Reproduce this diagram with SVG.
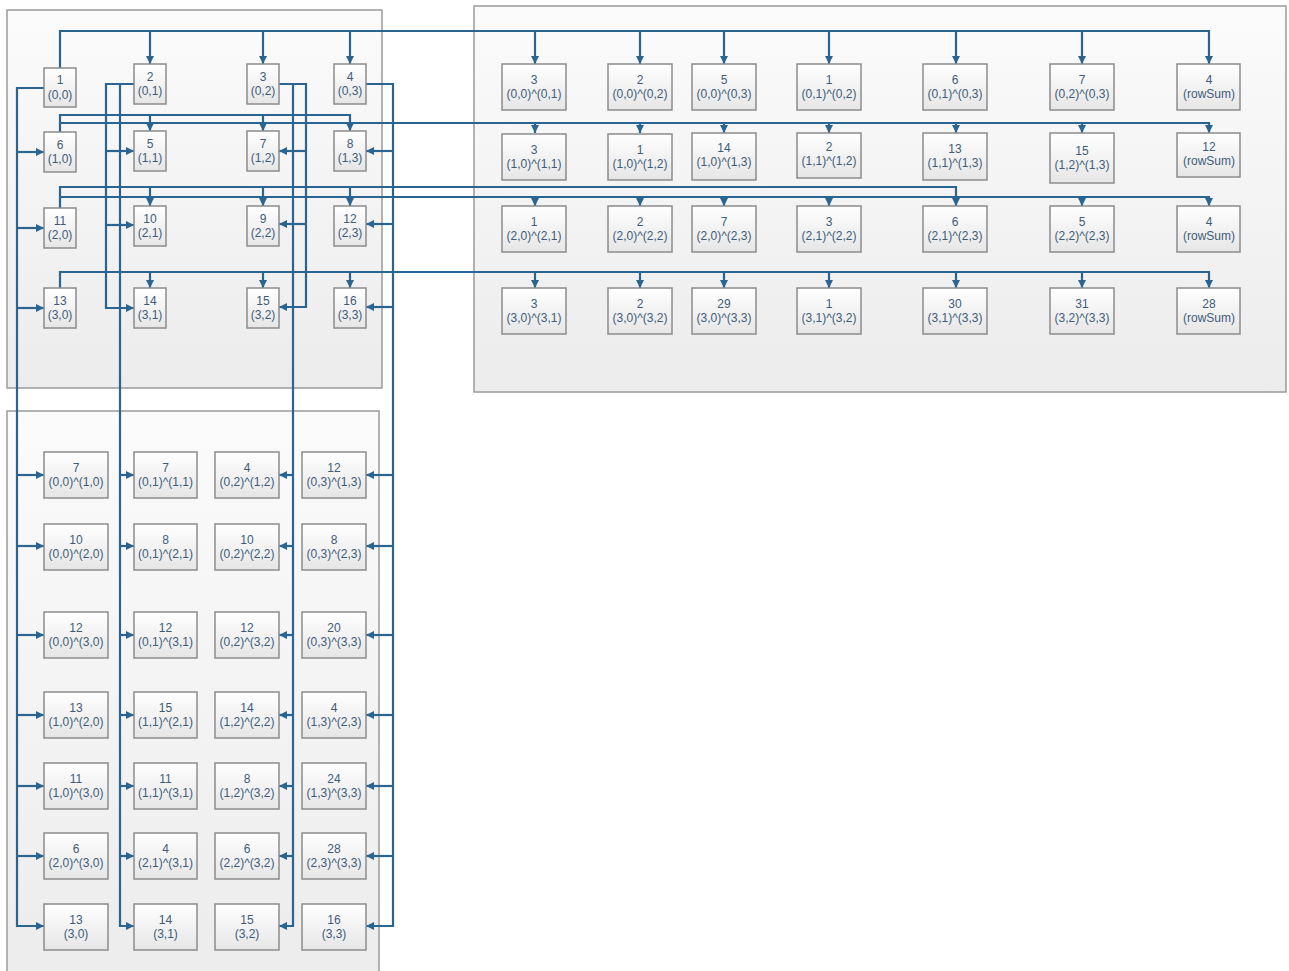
<svg xmlns="http://www.w3.org/2000/svg" width="1289" height="971" viewBox="0 0 1289 971">
<defs>
<linearGradient id="gNode" x1="0" y1="0" x2="0" y2="1"><stop offset="0" stop-color="#ffffff"/><stop offset="1" stop-color="#e6e6e6"/></linearGradient>
<linearGradient id="gBox" x1="0" y1="0" x2="0" y2="1"><stop offset="0" stop-color="#fbfbfb"/><stop offset="1" stop-color="#ececec"/></linearGradient>
<marker id="ah" markerUnits="userSpaceOnUse" markerWidth="9" markerHeight="8" refX="8" refY="4" orient="auto"><path d="M0,0 L8,4 L0,8 z" fill="#2a6592"/></marker>
<style>
.box{fill:url(#gBox);stroke:#9a9a9a;stroke-width:1.5}
.node{fill:url(#gNode);stroke:#8c8c8c;stroke-width:1.5}
.c{fill:none;stroke:#2a6592;stroke-width:2.2}
.a{fill:none;stroke:#2a6592;stroke-width:2.2;marker-end:url(#ah)}
.t{font-family:"Liberation Sans",Arial,sans-serif;font-size:12px;fill:#3e5c7a;text-anchor:middle}
</style>
</defs>
<rect width="1289" height="971" fill="#ffffff"/>
<g id="containers">
<rect id="box-matrix" class="box" x="7" y="10" width="375" height="378"/>
<rect id="box-rows" class="box" x="474" y="6" width="812" height="386"/>
<rect id="box-cols" class="box" x="7" y="411" width="372" height="570"/>
</g>
<g id="connectors">
<!-- row 0 -->
<path class="a" d="M60,68 V31 H1209 V64"/>
<path class="a" d="M150,31 V64"/><path class="a" d="M263,31 V64"/><path class="a" d="M350,31 V64"/>
<path class="a" d="M535,31 V64"/><path class="a" d="M640,31 V64"/><path class="a" d="M724,31 V64"/><path class="a" d="M829,31 V64"/><path class="a" d="M956,31 V64"/><path class="a" d="M1082,31 V64"/>
<!-- row 1 -->
<path class="a" d="M60,132 V115 H350 V131"/>
<path class="a" d="M60,123 H1209 V133"/>
<path class="a" d="M150,115 V131"/><path class="a" d="M263,115 V131"/>
<path class="a" d="M535,123 V133"/><path class="a" d="M640,123 V133"/><path class="a" d="M724,123 V133"/><path class="a" d="M829,123 V133"/><path class="a" d="M956,123 V133"/><path class="a" d="M1082,123 V133"/>
<!-- row 2 -->
<path class="a" d="M60,208 V187 H956 V206"/>
<path class="a" d="M60,197 H1209 V206"/>
<path class="a" d="M150,187 V206"/><path class="a" d="M263,187 V206"/><path class="a" d="M350,187 V206"/>
<path class="a" d="M535,197 V206"/><path class="a" d="M640,197 V206"/><path class="a" d="M724,197 V206"/><path class="a" d="M829,197 V206"/><path class="a" d="M1082,197 V206"/>
<!-- row 3 -->
<path class="a" d="M60,288 V272 H1209 V288"/>
<path class="a" d="M150,272 V288"/><path class="a" d="M263,272 V288"/><path class="a" d="M350,272 V288"/>
<path class="a" d="M535,272 V288"/><path class="a" d="M640,272 V288"/><path class="a" d="M724,272 V288"/><path class="a" d="M829,272 V288"/><path class="a" d="M956,272 V288"/><path class="a" d="M1082,272 V288"/>
<!-- column 0 -->
<path class="a" d="M44,88 H17 V926 H44"/>
<path class="a" d="M17,152 H44"/><path class="a" d="M17,228 H44"/><path class="a" d="M17,308 H44"/>
<path class="a" d="M17,475 H44"/><path class="a" d="M17,546 H44"/><path class="a" d="M17,635 H44"/><path class="a" d="M17,715 H44"/><path class="a" d="M17,786 H44"/><path class="a" d="M17,856 H44"/>
<!-- column 1 -->
<path class="a" d="M134,84 H106 V308 H134"/>
<path class="a" d="M106,151 H134"/><path class="a" d="M106,225 H134"/>
<path class="a" d="M120,84 V926 H134"/>
<path class="a" d="M120,475 H134"/><path class="a" d="M120,546 H134"/><path class="a" d="M120,635 H134"/><path class="a" d="M120,715 H134"/><path class="a" d="M120,786 H134"/><path class="a" d="M120,856 H134"/>
<!-- column 2 -->
<path class="a" d="M279,84 H306 V307 H279"/>
<path class="a" d="M306,151 H279"/><path class="a" d="M306,224 H279"/>
<path class="a" d="M293,84 V926 H279"/>
<path class="a" d="M293,475 H279"/><path class="a" d="M293,546 H279"/><path class="a" d="M293,635 H279"/><path class="a" d="M293,715 H279"/><path class="a" d="M293,786 H279"/><path class="a" d="M293,856 H279"/>
<!-- column 3 -->
<path class="a" d="M366,84 H393 V926 H366"/>
<path class="a" d="M393,151 H366"/><path class="a" d="M393,224 H366"/><path class="a" d="M393,307 H366"/>
<path class="a" d="M393,475 H366"/><path class="a" d="M393,546 H366"/><path class="a" d="M393,635 H366"/><path class="a" d="M393,715 H366"/><path class="a" d="M393,786 H366"/><path class="a" d="M393,856 H366"/>
</g>
<!-- matrix nodes -->
<g id="m00"><rect class="node" x="44" y="68" width="32" height="39"/><text class="t"><tspan x="60" y="84">1</tspan><tspan x="60" y="99">(0,0)</tspan></text></g>
<g id="m01"><rect class="node" x="134" y="64" width="32" height="40"/><text class="t"><tspan x="150" y="81">2</tspan><tspan x="150" y="95">(0,1)</tspan></text></g>
<g id="m02"><rect class="node" x="247" y="64" width="32" height="40"/><text class="t"><tspan x="263" y="81">3</tspan><tspan x="263" y="95">(0,2)</tspan></text></g>
<g id="m03"><rect class="node" x="334" y="64" width="32" height="40"/><text class="t"><tspan x="350" y="81">4</tspan><tspan x="350" y="95">(0,3)</tspan></text></g>
<g id="m10"><rect class="node" x="44" y="132" width="32" height="40"/><text class="t"><tspan x="60" y="149">6</tspan><tspan x="60" y="163">(1,0)</tspan></text></g>
<g id="m11"><rect class="node" x="134" y="131" width="32" height="40"/><text class="t"><tspan x="150" y="148">5</tspan><tspan x="150" y="162">(1,1)</tspan></text></g>
<g id="m12"><rect class="node" x="247" y="131" width="32" height="40"/><text class="t"><tspan x="263" y="148">7</tspan><tspan x="263" y="162">(1,2)</tspan></text></g>
<g id="m13"><rect class="node" x="334" y="131" width="32" height="40"/><text class="t"><tspan x="350" y="148">8</tspan><tspan x="350" y="162">(1,3)</tspan></text></g>
<g id="m20"><rect class="node" x="44" y="208" width="32" height="40"/><text class="t"><tspan x="60" y="225">11</tspan><tspan x="60" y="239">(2,0)</tspan></text></g>
<g id="m21"><rect class="node" x="134" y="206" width="32" height="40"/><text class="t"><tspan x="150" y="223">10</tspan><tspan x="150" y="237">(2,1)</tspan></text></g>
<g id="m22"><rect class="node" x="247" y="206" width="32" height="40"/><text class="t"><tspan x="263" y="223">9</tspan><tspan x="263" y="237">(2,2)</tspan></text></g>
<g id="m23"><rect class="node" x="334" y="206" width="32" height="40"/><text class="t"><tspan x="350" y="223">12</tspan><tspan x="350" y="237">(2,3)</tspan></text></g>
<g id="m30"><rect class="node" x="44" y="288" width="32" height="40"/><text class="t"><tspan x="60" y="305">13</tspan><tspan x="60" y="319">(3,0)</tspan></text></g>
<g id="m31"><rect class="node" x="134" y="288" width="32" height="40"/><text class="t"><tspan x="150" y="305">14</tspan><tspan x="150" y="319">(3,1)</tspan></text></g>
<g id="m32"><rect class="node" x="247" y="288" width="32" height="40"/><text class="t"><tspan x="263" y="305">15</tspan><tspan x="263" y="319">(3,2)</tspan></text></g>
<g id="m33"><rect class="node" x="334" y="288" width="32" height="40"/><text class="t"><tspan x="350" y="305">16</tspan><tspan x="350" y="319">(3,3)</tspan></text></g>
<!-- row pair nodes -->
<g id="r0a"><rect class="node" x="502" y="64" width="64" height="46"/><text class="t"><tspan x="534" y="84">3</tspan><tspan x="534" y="98">(0,0)^(0,1)</tspan></text></g>
<g id="r0b"><rect class="node" x="608" y="64" width="64" height="46"/><text class="t"><tspan x="640" y="84">2</tspan><tspan x="640" y="98">(0,0)^(0,2)</tspan></text></g>
<g id="r0c"><rect class="node" x="692" y="64" width="64" height="46"/><text class="t"><tspan x="724" y="84">5</tspan><tspan x="724" y="98">(0,0)^(0,3)</tspan></text></g>
<g id="r0d"><rect class="node" x="797" y="64" width="64" height="46"/><text class="t"><tspan x="829" y="84">1</tspan><tspan x="829" y="98">(0,1)^(0,2)</tspan></text></g>
<g id="r0e"><rect class="node" x="923" y="64" width="64" height="46"/><text class="t"><tspan x="955" y="84">6</tspan><tspan x="955" y="98">(0,1)^(0,3)</tspan></text></g>
<g id="r0f"><rect class="node" x="1050" y="64" width="64" height="46"/><text class="t"><tspan x="1082" y="84">7</tspan><tspan x="1082" y="98">(0,2)^(0,3)</tspan></text></g>
<g id="r0g"><rect class="node" x="1177" y="64" width="63" height="46"/><text class="t"><tspan x="1209" y="84">4</tspan><tspan x="1209" y="98">(rowSum)</tspan></text></g>
<g id="r1a"><rect class="node" x="502" y="134" width="64" height="46"/><text class="t"><tspan x="534" y="154">3</tspan><tspan x="534" y="168">(1,0)^(1,1)</tspan></text></g>
<g id="r1b"><rect class="node" x="608" y="134" width="64" height="46"/><text class="t"><tspan x="640" y="154">1</tspan><tspan x="640" y="168">(1,0)^(1,2)</tspan></text></g>
<g id="r1c"><rect class="node" x="692" y="133" width="64" height="47"/><text class="t"><tspan x="724" y="152">14</tspan><tspan x="724" y="166">(1,0)^(1,3)</tspan></text></g>
<g id="r1d"><rect class="node" x="797" y="133" width="64" height="45"/><text class="t"><tspan x="829" y="151">2</tspan><tspan x="829" y="165">(1,1)^(1,2)</tspan></text></g>
<g id="r1e"><rect class="node" x="923" y="133" width="64" height="47"/><text class="t"><tspan x="955" y="153">13</tspan><tspan x="955" y="167">(1,1)^(1,3)</tspan></text></g>
<g id="r1f"><rect class="node" x="1050" y="133" width="64" height="50"/><text class="t"><tspan x="1082" y="155">15</tspan><tspan x="1082" y="169">(1,2)^(1,3)</tspan></text></g>
<g id="r1g"><rect class="node" x="1177" y="133" width="63" height="44"/><text class="t"><tspan x="1209" y="151">12</tspan><tspan x="1209" y="165">(rowSum)</tspan></text></g>
<g id="r2a"><rect class="node" x="502" y="206" width="64" height="46"/><text class="t"><tspan x="534" y="226">1</tspan><tspan x="534" y="240">(2,0)^(2,1)</tspan></text></g>
<g id="r2b"><rect class="node" x="608" y="206" width="64" height="46"/><text class="t"><tspan x="640" y="226">2</tspan><tspan x="640" y="240">(2,0)^(2,2)</tspan></text></g>
<g id="r2c"><rect class="node" x="692" y="206" width="64" height="46"/><text class="t"><tspan x="724" y="226">7</tspan><tspan x="724" y="240">(2,0)^(2,3)</tspan></text></g>
<g id="r2d"><rect class="node" x="797" y="206" width="64" height="46"/><text class="t"><tspan x="829" y="226">3</tspan><tspan x="829" y="240">(2,1)^(2,2)</tspan></text></g>
<g id="r2e"><rect class="node" x="923" y="206" width="64" height="46"/><text class="t"><tspan x="955" y="226">6</tspan><tspan x="955" y="240">(2,1)^(2,3)</tspan></text></g>
<g id="r2f"><rect class="node" x="1050" y="206" width="64" height="46"/><text class="t"><tspan x="1082" y="226">5</tspan><tspan x="1082" y="240">(2,2)^(2,3)</tspan></text></g>
<g id="r2g"><rect class="node" x="1177" y="206" width="63" height="46"/><text class="t"><tspan x="1209" y="226">4</tspan><tspan x="1209" y="240">(rowSum)</tspan></text></g>
<g id="r3a"><rect class="node" x="502" y="288" width="64" height="46"/><text class="t"><tspan x="534" y="308">3</tspan><tspan x="534" y="322">(3,0)^(3,1)</tspan></text></g>
<g id="r3b"><rect class="node" x="608" y="288" width="64" height="46"/><text class="t"><tspan x="640" y="308">2</tspan><tspan x="640" y="322">(3,0)^(3,2)</tspan></text></g>
<g id="r3c"><rect class="node" x="692" y="288" width="64" height="46"/><text class="t"><tspan x="724" y="308">29</tspan><tspan x="724" y="322">(3,0)^(3,3)</tspan></text></g>
<g id="r3d"><rect class="node" x="797" y="288" width="64" height="46"/><text class="t"><tspan x="829" y="308">1</tspan><tspan x="829" y="322">(3,1)^(3,2)</tspan></text></g>
<g id="r3e"><rect class="node" x="923" y="288" width="64" height="46"/><text class="t"><tspan x="955" y="308">30</tspan><tspan x="955" y="322">(3,1)^(3,3)</tspan></text></g>
<g id="r3f"><rect class="node" x="1050" y="288" width="64" height="46"/><text class="t"><tspan x="1082" y="308">31</tspan><tspan x="1082" y="322">(3,2)^(3,3)</tspan></text></g>
<g id="r3g"><rect class="node" x="1177" y="288" width="63" height="46"/><text class="t"><tspan x="1209" y="308">28</tspan><tspan x="1209" y="322">(rowSum)</tspan></text></g>
<!-- column pair nodes -->
<g id="c0a"><rect class="node" x="44" y="452" width="64" height="46"/><text class="t"><tspan x="76" y="472">7</tspan><tspan x="76" y="486">(0,0)^(1,0)</tspan></text></g>
<g id="c1a"><rect class="node" x="134" y="452" width="63" height="46"/><text class="t"><tspan x="165.5" y="472">7</tspan><tspan x="165.5" y="486">(0,1)^(1,1)</tspan></text></g>
<g id="c2a"><rect class="node" x="215" y="452" width="64" height="46"/><text class="t"><tspan x="247" y="472">4</tspan><tspan x="247" y="486">(0,2)^(1,2)</tspan></text></g>
<g id="c3a"><rect class="node" x="302" y="452" width="64" height="46"/><text class="t"><tspan x="334" y="472">12</tspan><tspan x="334" y="486">(0,3)^(1,3)</tspan></text></g>
<g id="c0b"><rect class="node" x="44" y="524" width="64" height="46"/><text class="t"><tspan x="76" y="544">10</tspan><tspan x="76" y="558">(0,0)^(2,0)</tspan></text></g>
<g id="c1b"><rect class="node" x="134" y="524" width="63" height="46"/><text class="t"><tspan x="165.5" y="544">8</tspan><tspan x="165.5" y="558">(0,1)^(2,1)</tspan></text></g>
<g id="c2b"><rect class="node" x="215" y="524" width="64" height="46"/><text class="t"><tspan x="247" y="544">10</tspan><tspan x="247" y="558">(0,2)^(2,2)</tspan></text></g>
<g id="c3b"><rect class="node" x="302" y="524" width="64" height="46"/><text class="t"><tspan x="334" y="544">8</tspan><tspan x="334" y="558">(0,3)^(2,3)</tspan></text></g>
<g id="c0c"><rect class="node" x="44" y="612" width="64" height="46"/><text class="t"><tspan x="76" y="632">12</tspan><tspan x="76" y="646">(0,0)^(3,0)</tspan></text></g>
<g id="c1c"><rect class="node" x="134" y="612" width="63" height="46"/><text class="t"><tspan x="165.5" y="632">12</tspan><tspan x="165.5" y="646">(0,1)^(3,1)</tspan></text></g>
<g id="c2c"><rect class="node" x="215" y="612" width="64" height="46"/><text class="t"><tspan x="247" y="632">12</tspan><tspan x="247" y="646">(0,2)^(3,2)</tspan></text></g>
<g id="c3c"><rect class="node" x="302" y="612" width="64" height="46"/><text class="t"><tspan x="334" y="632">20</tspan><tspan x="334" y="646">(0,3)^(3,3)</tspan></text></g>
<g id="c0d"><rect class="node" x="44" y="692" width="64" height="46"/><text class="t"><tspan x="76" y="712">13</tspan><tspan x="76" y="726">(1,0)^(2,0)</tspan></text></g>
<g id="c1d"><rect class="node" x="134" y="692" width="63" height="46"/><text class="t"><tspan x="165.5" y="712">15</tspan><tspan x="165.5" y="726">(1,1)^(2,1)</tspan></text></g>
<g id="c2d"><rect class="node" x="215" y="692" width="64" height="46"/><text class="t"><tspan x="247" y="712">14</tspan><tspan x="247" y="726">(1,2)^(2,2)</tspan></text></g>
<g id="c3d"><rect class="node" x="302" y="692" width="64" height="46"/><text class="t"><tspan x="334" y="712">4</tspan><tspan x="334" y="726">(1,3)^(2,3)</tspan></text></g>
<g id="c0e"><rect class="node" x="44" y="763" width="64" height="46"/><text class="t"><tspan x="76" y="783">11</tspan><tspan x="76" y="797">(1,0)^(3,0)</tspan></text></g>
<g id="c1e"><rect class="node" x="134" y="763" width="63" height="46"/><text class="t"><tspan x="165.5" y="783">11</tspan><tspan x="165.5" y="797">(1,1)^(3,1)</tspan></text></g>
<g id="c2e"><rect class="node" x="215" y="763" width="64" height="46"/><text class="t"><tspan x="247" y="783">8</tspan><tspan x="247" y="797">(1,2)^(3,2)</tspan></text></g>
<g id="c3e"><rect class="node" x="302" y="763" width="64" height="46"/><text class="t"><tspan x="334" y="783">24</tspan><tspan x="334" y="797">(1,3)^(3,3)</tspan></text></g>
<g id="c0f"><rect class="node" x="44" y="833" width="64" height="46"/><text class="t"><tspan x="76" y="853">6</tspan><tspan x="76" y="867">(2,0)^(3,0)</tspan></text></g>
<g id="c1f"><rect class="node" x="134" y="833" width="63" height="46"/><text class="t"><tspan x="165.5" y="853">4</tspan><tspan x="165.5" y="867">(2,1)^(3,1)</tspan></text></g>
<g id="c2f"><rect class="node" x="215" y="833" width="64" height="46"/><text class="t"><tspan x="247" y="853">6</tspan><tspan x="247" y="867">(2,2)^(3,2)</tspan></text></g>
<g id="c3f"><rect class="node" x="302" y="833" width="64" height="46"/><text class="t"><tspan x="334" y="853">28</tspan><tspan x="334" y="867">(2,3)^(3,3)</tspan></text></g>
<g id="c0g"><rect class="node" x="44" y="904" width="64" height="46"/><text class="t"><tspan x="76" y="924">13</tspan><tspan x="76" y="938">(3,0)</tspan></text></g>
<g id="c1g"><rect class="node" x="134" y="904" width="63" height="46"/><text class="t"><tspan x="165.5" y="924">14</tspan><tspan x="165.5" y="938">(3,1)</tspan></text></g>
<g id="c2g"><rect class="node" x="215" y="904" width="64" height="46"/><text class="t"><tspan x="247" y="924">15</tspan><tspan x="247" y="938">(3,2)</tspan></text></g>
<g id="c3g"><rect class="node" x="302" y="904" width="64" height="46"/><text class="t"><tspan x="334" y="924">16</tspan><tspan x="334" y="938">(3,3)</tspan></text></g>
</svg>
